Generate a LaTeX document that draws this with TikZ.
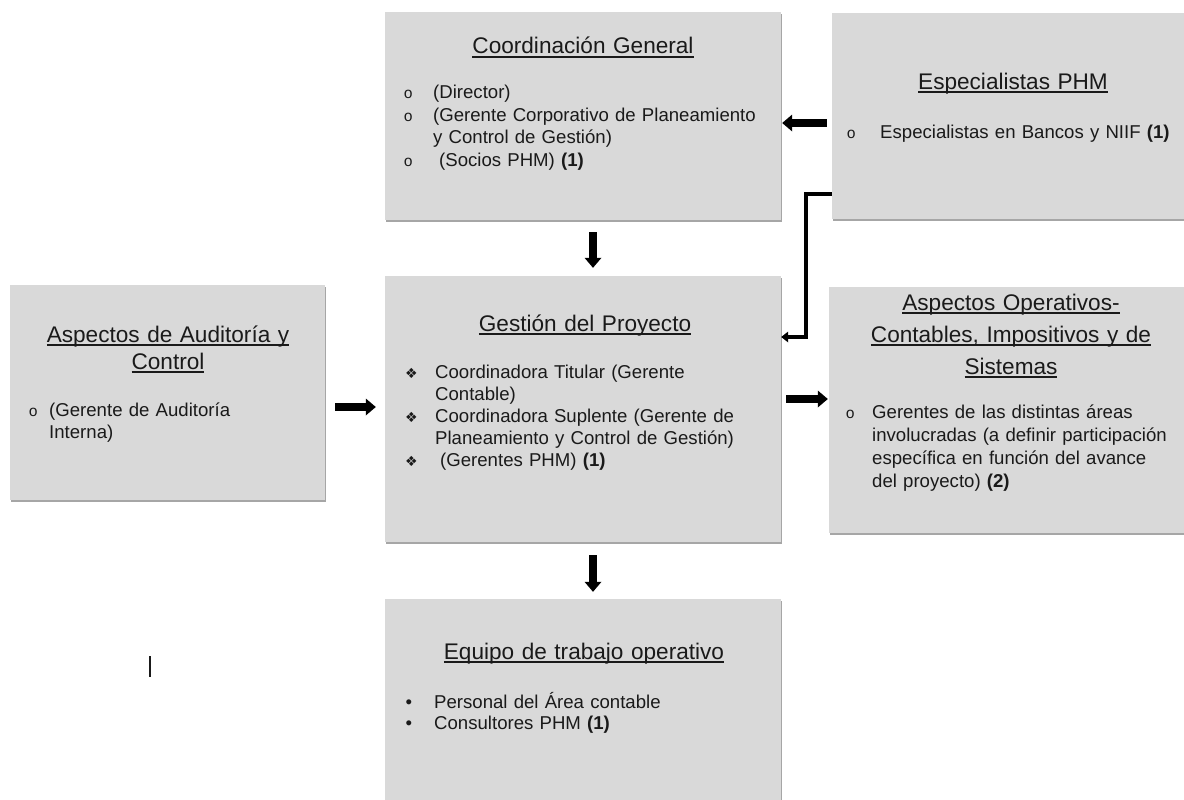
\documentclass[tikz,border=0pt]{standalone}
\usepackage{fontspec}
\setmainfont{Liberation Sans}
\newfontfamily\monofam{Liberation Mono}
\newfontfamily\dejavufam{DejaVu Sans}
\usepackage{tikz}
\usetikzlibrary{arrows.meta,shadows}
\definecolor{Panel}{HTML}{D9D9D9}
\definecolor{Tinta}{HTML}{1A1A1A}

\newcommand\subrayar[1]{\leavevmode\setbox0\hbox{#1}\rlap{\rule[-3.6pt]{\wd0}{1.3pt}}\box0}
\newcommand\linea[3]{\noindent\hangindent=#1\hangafter=1\makebox[#1][l]{#2}#3\par}
\newcommand\circulo{{\monofam\fontsize{15.5}{15.5}\selectfont o}}
\newcommand\rombo{{\dejavufam\fontsize{14}{14}\selectfont ❖}}
\newcommand\punto{\textbullet}

\begin{document}
\begin{tikzpicture}[x=1pt,y=-1pt,
    caja/.style={fill=Panel,inner sep=0pt,drop shadow={shadow xshift=0.6pt,shadow yshift=-2.4pt,fill=black,opacity=0.35}},
    titulo/.style={anchor=base,inner sep=0pt,text width=320pt,align=center,text=Tinta,font=\fontsize{22.6}{27}\selectfont},
    lista/.style={anchor=base west,inner sep=0pt,text width=360pt,align=left,text=Tinta,font=\fontsize{18.6}{21}\selectfont},
    flecha/.style={line width=8pt,-{Triangle[length=10pt,width=17pt,line width=0pt]}},
    codo/.style={line width=4pt,line join=miter,-{Triangle[length=7pt,width=11pt,line width=0pt]}}]
    \clip (0,0) rectangle (1184,800);
    \fill[white] (0,0) rectangle (1184,800);

    % cajas
    \node[caja,minimum width=396pt,minimum height=208pt] (coord) at (583,116) {};
    \node[caja,minimum width=362pt,minimum height=206pt] (espec) at (1013,116) {};
    \node[caja,minimum width=315pt,minimum height=215pt] (audit) at (167.5,392.5) {};
    \node[caja,minimum width=396pt,minimum height=266pt] (gestion) at (583,409) {};
    \node[caja,minimum width=365pt,minimum height=246pt] (oper) at (1011.5,410) {};
    \node[caja,minimum width=396pt,minimum height=214pt] (equipo) at (583,706) {};

    % titulos
    \node[titulo] (coord-t) at (583,54) {\subrayar{Coordinación General}};
    \node[titulo] (espec-t) at (1013,89) {\subrayar{Especialistas PHM}};
    \node[titulo] (audit-t) at (168,342) {\subrayar{Aspectos de Auditoría y}\\\subrayar{Control}};
    \node[titulo] (gestion-t) at (585,331) {\subrayar{Gestión del Proyecto}};
    \node[titulo,font=\fontsize{22.6}{32}\selectfont] (oper-t) at (1011,310) {\subrayar{Aspectos Operativos-}\\\subrayar{Contables, Impositivos y de}\\\subrayar{Sistemas}};
    \node[titulo] (equipo-t) at (584,659) {\subrayar{Equipo de trabajo operativo}};

    % listas
    \node[lista,font=\fontsize{18.6}{22.5}\selectfont] (coord-l) at (403.5,99) {\linea{29.5pt}{\circulo}{(Director)}\linea{29.5pt}{\circulo}{(Gerente Corporativo de Planeamiento\newline y Control de Gestión)}\linea{29.5pt}{\circulo}{\hspace{6pt}(Socios PHM) \textbf{(1)}}};
    \node[lista] (espec-l) at (846.5,139) {\linea{33.5pt}{\circulo}{Especialistas en Bancos y NIIF \textbf{(1)}}};
    \node[lista,font=\fontsize{18.6}{22}\selectfont] (audit-l) at (28.5,416) {\linea{20.5pt}{\circulo}{(Gerente de Auditoría\newline Interna)}};
    \node[lista,font=\fontsize{18.6}{22}\selectfont] (gestion-l) at (405,378) {\linea{30pt}{\rombo}{Coordinadora Titular (Gerente\newline Contable)}\linea{30pt}{\rombo}{Coordinadora Suplente (Gerente de\newline Planeamiento y Control de Gestión)}\linea{30pt}{\rombo}{\hspace{5pt}(Gerentes PHM) \textbf{(1)}}};
    \node[lista,font=\fontsize{18.6}{23.3}\selectfont] (oper-l) at (845.5,418) {\linea{26.5pt}{\circulo}{Gerentes de las distintas áreas\newline involucradas (a definir participación\newline específica en función del avance\newline del proyecto) \textbf{(2)}}};
    \node[lista] (equipo-l) at (405.5,708) {\linea{28.5pt}{\punto}{Personal del Área contable}\linea{28.5pt}{\punto}{Consultores PHM \textbf{(1)}}};

    % flechas
    \draw[flecha,shorten <=5pt,shorten >=1pt] ([yshift=-7pt]espec.west) -- ([yshift=-7pt]coord.east);
    \draw[flecha,shorten <=12pt,shorten >=8pt] ([xshift=10pt]coord.south) -- ([xshift=10pt]gestion.north);
    \draw[flecha,shorten <=10pt,shorten >=9pt] ([yshift=-14.5pt]audit.east) -- ([yshift=2pt]gestion.west);
    \draw[flecha,shorten <=5pt,shorten >=1pt] ([yshift=10pt]gestion.east) -- ([yshift=11pt]oper.west);
    \draw[flecha,shorten <=13pt,shorten >=7pt] ([xshift=10pt]gestion.south) -- ([xshift=10pt]equipo.north);
    \coordinate (quiebre) at (806,194);
    \draw[codo] (quiebre -| espec.west) -- (quiebre) |- ([yshift=72pt]gestion.east);

    \draw[line width=2pt,Tinta] (150,656) -- (150,677);
\end{tikzpicture}
\end{document}
